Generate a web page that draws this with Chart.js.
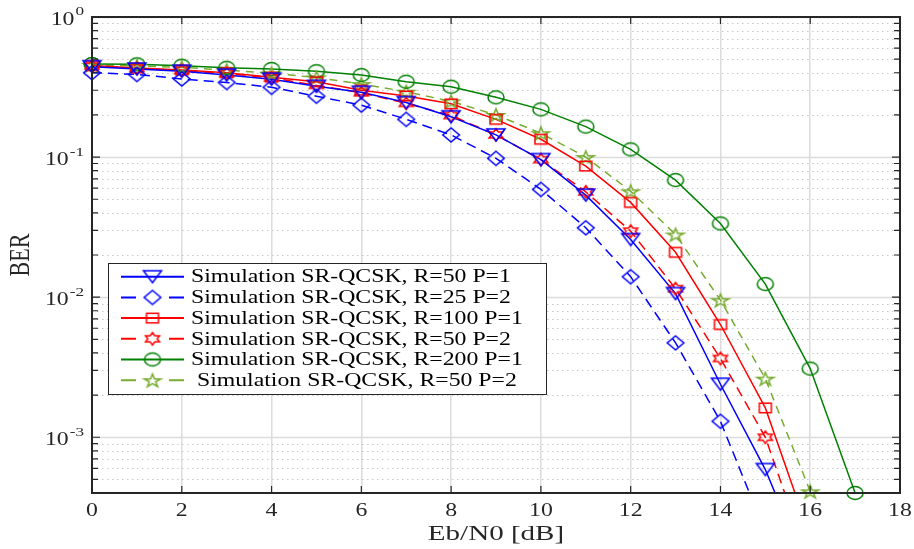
<!DOCTYPE html>
<html>
<head>
<meta charset="utf-8">
<script src="https://cdn.jsdelivr.net/npm/chart.js@4.4.0/dist/chart.umd.min.js"></script>
<style>
  body { margin: 0; background: #fff; }
  #wrap { width: 914px; height: 549px; }
</style>
</head>
<body>
<div id="wrap"><canvas id="berChart" width="914" height="549"></canvas></div>
<script>
// Eb/N0 [dB]
const snr = [0, 1, 2, 3, 4, 5, 6, 7, 8, 9, 10, 11, 12, 13, 14, 15, 16, 17];

// BER curves (null = not simulated)
const berR50P1 = [0.442, 0.425, 0.41, 0.385, 0.36, 0.32, 0.29, 0.245, 0.194, 0.144, 0.096, 0.0535, 0.0258, 0.0106, 0.00239, 0.000588, 0.0001, null];
const berR25P2 = [0.40, 0.389, 0.361, 0.341, 0.315, 0.272, 0.235, 0.186, 0.144, 0.098, 0.0588, 0.0313, 0.014, 0.00472, 0.0013, 0.00021, null, null];
const berR100P1 = [0.45, 0.432, 0.418, 0.40, 0.371, 0.345, 0.30, 0.273, 0.24, 0.186, 0.134, 0.0862, 0.0475, 0.0209, 0.00638, 0.00162, 0.000195, null];
const berR50P2 = [0.448, 0.43, 0.415, 0.395, 0.368, 0.325, 0.288, 0.242, 0.198, 0.144, 0.096, 0.0565, 0.0296, 0.0115, 0.00365, 0.001, 0.00012, null];
const berR200P1 = [0.462, 0.459, 0.449, 0.434, 0.425, 0.41, 0.385, 0.345, 0.318, 0.267, 0.219, 0.165, 0.1135, 0.0685, 0.0336, 0.0124, 0.00309, 0.0004];
const berR50P2b = [0.455, 0.447, 0.437, 0.418, 0.396, 0.37, 0.332, 0.293, 0.25, 0.2, 0.148, 0.1, 0.057, 0.028, 0.00952, 0.00262, 0.000411, null];

const labels = [
    "Simulation SR-QCSK, R=50 P=1",
    "Simulation SR-QCSK, R=25 P=2",
    "Simulation SR-QCSK, R=100 P=1",
    "Simulation SR-QCSK, R=50 P=2",
    "Simulation SR-QCSK, R=200 P=1",
    " Simulation SR-QCSK, R=50 P=2"
];

// axis ticks
const xTicks = [0, 2, 4, 6, 8, 10, 12, 14, 16, 18];
const yDecades = [0, -1, -2, -3];
const Y_MIN = 4e-4, Y_MAX = 1;

const SX = 1.32; // the picture is stretched sideways
const SERIF = '"Liberation Serif", "DejaVu Serif", serif';

// marker pictures
function marker(kind, color) {
    const c = document.createElement('canvas');
    c.width = 24; c.height = 20;
    const g = c.getContext('2d');
    g.translate(12, 10);
    g.strokeStyle = color;
    g.lineWidth = 1.5;
    g.beginPath();
    if (kind === 'tri') {
        g.moveTo(-9, -6); g.lineTo(9, -6); g.lineTo(0, 6); g.closePath();
    } else if (kind === 'dia') {
        g.moveTo(0, -7); g.lineTo(8.3, 0); g.lineTo(0, 7); g.lineTo(-8.3, 0); g.closePath();
    } else if (kind === 'sq') {
        g.rect(-6, -4.7, 12, 9.4);
    } else if (kind === 'circ') {
        g.ellipse(0, 0, 8, 6.4, 0, 0, Math.PI * 2);
    } else if (kind === 'hex') {
        for (let k = 0; k < 12; k++) {
            const a = -Math.PI / 2 + k * Math.PI / 6;
            const r = k % 2 === 0 ? 6.2 : 6.2 / Math.sqrt(3);
            const px = r * Math.cos(a) * 1.3, py = r * Math.sin(a);
            k === 0 ? g.moveTo(px, py) : g.lineTo(px, py);
        }
        g.closePath();
    } else if (kind === 'star') {
        for (let k = 0; k < 10; k++) {
            const a = -Math.PI / 2 + k * Math.PI / 5;
            const r = k % 2 === 0 ? 7 : 7 * 0.382;
            const px = r * Math.cos(a) * 1.25, py = r * Math.sin(a) + 0.8;
            k === 0 ? g.moveTo(px, py) : g.lineTo(px, py);
        }
        g.closePath();
    }
    g.stroke();
    return c;
}

const series = [
    { vals: berR50P1, color: '#0000ff', dash: [], mk: 'tri' },
    { vals: berR25P2, color: '#0000ff', dash: [10, 6], mk: 'dia' },
    { vals: berR100P1, color: '#ff0000', dash: [], mk: 'sq' },
    { vals: berR50P2, color: '#ff0000', dash: [10, 6], mk: 'hex' },
    { vals: berR200P1, color: '#008000', dash: [], mk: 'circ' },
    { vals: berR50P2b, color: '#77ac30', dash: [8, 6], mk: 'star' }
];
series.forEach(s => s.img = marker(s.mk, s.color));

const datasets = [];
series.forEach((s, i) => {
    // line part, cut at the frame
    datasets.push({
        label: labels[i],
        data: snr.map((x, j) => ({ x: x, y: s.vals[j] })),
        borderColor: s.color,
        borderWidth: 1.5,
        borderDash: s.dash,
        pointRadius: 0,
        fill: false,
        tension: 0,
        order: 2
    });
    // markers, allowed to sit over the frame
    datasets.push({
        label: labels[i] + ' markers',
        data: snr.map((x, j) => ({ x: x, y: s.vals[j] !== null && s.vals[j] >= Y_MIN ? s.vals[j] : null })),
        showLine: false,
        pointStyle: s.img,
        pointRadius: 8,
        clip: false,
        order: 1
    });
});

function sText(ctx, text, x, y, align, font) {
    ctx.save();
    ctx.font = font;
    const w = ctx.measureText(text).width * SX;
    const x0 = align === 'center' ? x - w / 2 : (align === 'right' ? x - w : x);
    ctx.translate(x0, y);
    ctx.scale(SX, 1);
    ctx.textAlign = 'left';
    ctx.textBaseline = 'middle';
    ctx.fillText(text, 0, 0);
    ctx.restore();
    return w;
}

function yTickValues() {
    const out = [];
    yDecades.forEach(e => {
        for (let m = 1; m <= 9; m++) {
            const v = m * Math.pow(10, e - 1);
            if (v >= Y_MIN * 0.999 && v <= Y_MAX) out.push({ v: v, major: m === 1 });
        }
    });
    out.push({ v: 1, major: true });
    return out;
}

const decor = {
    id: 'decor',
    beforeDatasetsDraw(chart) {
        const ctx = chart.ctx, a = chart.chartArea, y = chart.scales.y;
        ctx.save();
        yTickValues().forEach(t => {
            const py = Math.round(y.getPixelForValue(t.v)) + 0.5;
            ctx.beginPath();
            if (t.major) {
                ctx.strokeStyle = '#dcdcdc';
                ctx.lineWidth = 1.5;
                ctx.setLineDash([]);
            } else {
                ctx.strokeStyle = '#c8c8c8';
                ctx.lineWidth = 1;
                ctx.setLineDash([1.5, 3.5]);
            }
            ctx.moveTo(a.left, py);
            ctx.lineTo(a.right, py);
            ctx.stroke();
        });
        ctx.restore();
    },
    afterDraw(chart) {
        const ctx = chart.ctx, a = chart.chartArea, x = chart.scales.x, y = chart.scales.y;
        ctx.save();
        ctx.strokeStyle = '#262626';
        ctx.fillStyle = '#262626';
        ctx.setLineDash([]);
        // inside tick marks
        ctx.lineWidth = 1.2;
        ctx.beginPath();
        xTicks.forEach(v => {
            const px = x.getPixelForValue(v);
            ctx.moveTo(px, a.bottom); ctx.lineTo(px, a.bottom - 7);
            ctx.moveTo(px, a.top); ctx.lineTo(px, a.top + 7);
        });
        yTickValues().forEach(t => {
            const py = y.getPixelForValue(t.v);
            const len = t.major ? 8 : 6;
            ctx.moveTo(a.left, py); ctx.lineTo(a.left + len, py);
            ctx.moveTo(a.right, py); ctx.lineTo(a.right - len, py);
        });
        ctx.stroke();
        // frame
        ctx.lineWidth = 2;
        ctx.strokeRect(a.left, a.top, a.right - a.left, a.bottom - a.top);

        // x tick labels
        xTicks.forEach(v => {
            sText(ctx, String(v), x.getPixelForValue(v), 511, 'center', '18px ' + SERIF);
        });
        // y tick labels 10^k
        yDecades.forEach(e => {
            const py = y.getPixelForValue(Math.pow(10, e));
            ctx.font = '13px ' + SERIF;
            const supW = ctx.measureText(String(e)).width * SX;
            ctx.font = '18px ' + SERIF;
            const baseW = ctx.measureText('10').width * SX;
            const right = 84;
            sText(ctx, '10', right - supW - baseW - 1, py + 3, 'left', '18px ' + SERIF);
            sText(ctx, String(e), right - supW, py - 5, 'left', '13px ' + SERIF);
        });
        // axis titles
        sText(ctx, 'Eb/N0 [dB]', (a.left + a.right) / 2, 534, 'center', '22px ' + SERIF);
        ctx.save();
        ctx.translate(21, (a.top + a.bottom) / 2);
        ctx.scale(SX, 1);
        ctx.rotate(-Math.PI / 2);
        ctx.font = '22px ' + SERIF;
        ctx.textAlign = 'center';
        ctx.textBaseline = 'middle';
        ctx.fillText('BER', 0, 0);
        ctx.restore();

        // legend box
        const bx = 108, by = 263, bw = 438, bh = 131;
        ctx.fillStyle = '#ffffff';
        ctx.fillRect(bx, by, bw, bh);
        ctx.lineWidth = 1;
        ctx.strokeStyle = '#262626';
        ctx.strokeRect(bx + 0.5, by + 0.5, bw, bh);
        series.forEach((s, i) => {
            const ry = 276.7 + i * 20.7;
            ctx.save();
            ctx.strokeStyle = s.color;
            ctx.lineWidth = 2;
            ctx.beginPath();
            if (s.dash.length) {
                ctx.moveTo(121, ry); ctx.lineTo(136, ry);
                ctx.moveTo(169, ry); ctx.lineTo(184, ry);
            } else {
                ctx.moveTo(121, ry); ctx.lineTo(184, ry);
            }
            ctx.stroke();
            ctx.restore();
            ctx.drawImage(s.img, 152.5 - s.img.width / 2, ry - s.img.height / 2);
            ctx.fillStyle = '#000000';
            sText(ctx, labels[i], 191, ry + 1, 'left', '18px ' + SERIF);
        });
        ctx.restore();
    }
};

new Chart(document.getElementById('berChart').getContext('2d'), {
    type: 'line',
    data: { datasets: datasets },
    options: {
        responsive: false,
        animation: false,
        events: [],
        layout: { padding: { top: 17, right: 14, left: 0, bottom: 0 } },
        plugins: { legend: { display: false }, tooltip: { enabled: false } },
        scales: {
            x: {
                type: 'linear',
                min: 0,
                max: 18,
                ticks: { display: false, stepSize: 2 },
                grid: { color: '#dcdcdc', lineWidth: 1.5, drawTicks: false },
                border: { display: false },
                afterFit: s => { s.height = 56; }
            },
            y: {
                type: 'logarithmic',
                min: Y_MIN,
                max: Y_MAX,
                ticks: { display: false, autoSkip: false },
                grid: { display: false },
                border: { display: false },
                afterFit: s => { s.width = 92; }
            }
        }
    },
    plugins: [decor]
});
</script>
</body>
</html>
